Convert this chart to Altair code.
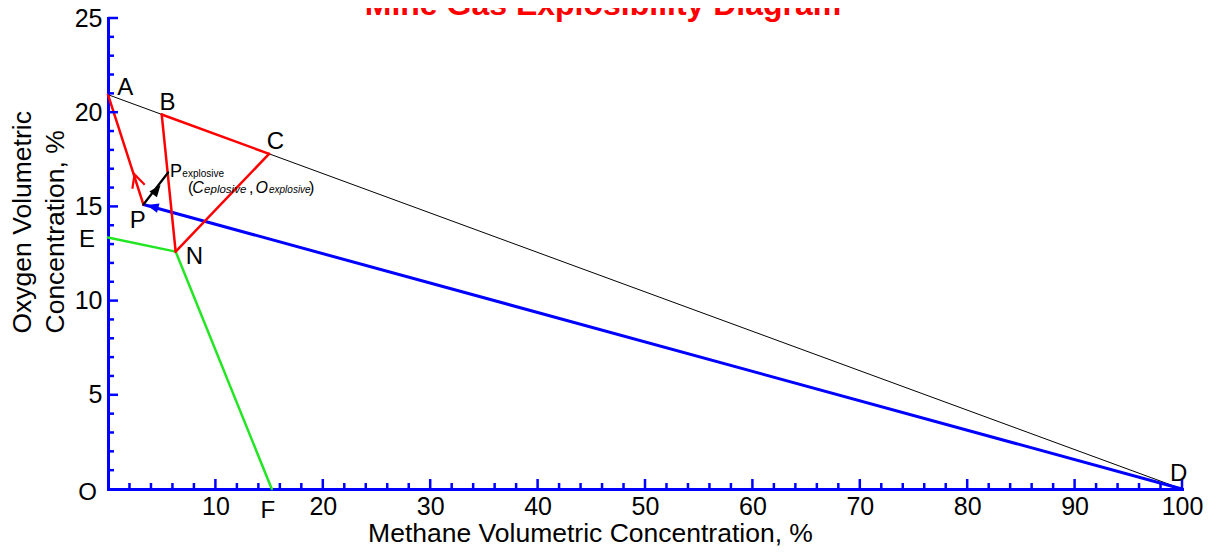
import altair as alt
import pandas as pd

# ---------------- data ----------------
TITLE = "Mine Gas Explosibility Diagram"
X_TITLE = "Methane Volumetric Concentration, %"
Y_TITLE = ["Oxygen Volumetric", "Concentration,  %"]

# key points of the diagram (methane %, oxygen %)
pt_name = ["A", "B", "C", "D", "E", "F", "N", "P", "Pexp"]
pt_x = [0.0, 5.0, 15.0, 100.0, 0.0, 15.25, 6.3, 3.3, 5.6]
pt_y = [20.93, 19.88, 17.79, 0.0, 13.35, 0.0, 12.6, 15.1, 16.8]

# line segments between key points
seg_from = ["A", "B", "C", "N", "A", "E", "N", "P", "P"]
seg_to = ["D", "C", "N", "B", "P", "N", "F", "D", "Pexp"]
seg_kind = ["air", "red", "red", "red", "red", "green", "green", "blue", "black"]

# arrow heads (tip positions)
arrow_kind = ["red", "black", "blue"]
arrow_x = [2.47, 4.89, 3.6]
arrow_y = [16.7, 16.14, 15.07]

# point labels
lab_text = ["A", "B", "C", "D", "E", "F", "N", "O", "P"]
lab_x = [1.61, 5.54, 15.6, 99.68, -1.96, 14.88, 8.05, -1.91, 2.78]
lab_y = [21.31, 20.49, 18.42, 0.8, 13.2, -1.17, 12.29, -0.19, 14.22]

# P_explosive annotation pieces
ann_text = ["P", "explosive", "(", "C", "eplosive", ",", "O", "explosive", ")"]
ann_kind = ["big", "sub", "paren", "bigit", "subit1", "paren", "bigit", "subit2", "paren"]
ann_x = [5.77, 6.92, 7.45, 7.85, 8.95, 13.13, 13.73, 14.99, 18.72]
ann_y = [16.58, 16.54, 15.70, 15.70, 15.70, 15.70, 15.70, 15.70, 15.70]

# axis ticks and labels
x_labels = [10, 20, 30, 40, 50, 60, 70, 80, 90, 100]
y_labels = [5, 10, 15, 20, 25]
x_minor = [v for v in range(2, 101, 2) if v % 10 != 0]
y_minor = [v for v in range(1, 26) if v % 5 != 0]

# ---------------- tables ----------------
pos = dict(zip(pt_name, zip(pt_x, pt_y)))
segs = pd.DataFrame({
    "x": [pos[a][0] for a in seg_from],
    "y": [pos[a][1] for a in seg_from],
    "x2": [pos[b][0] for b in seg_to],
    "y2": [pos[b][1] for b in seg_to],
    "kind": seg_kind,
})
arrows = pd.DataFrame({"x": arrow_x, "y": arrow_y, "kind": arrow_kind})
labels = pd.DataFrame({"x": lab_x, "y": lab_y, "t": lab_text})
ann = pd.DataFrame({"x": ann_x, "y": ann_y, "t": ann_text, "kind": ann_kind})
xt_major = pd.DataFrame({"v": x_labels})
xt_minor = pd.DataFrame({"v": x_minor})
yt_major = pd.DataFrame({"v": y_labels})
yt_minor = pd.DataFrame({"v": y_minor})

W, H = 1074, 471
FONT = "Liberation Sans"
BLUE = "#0000ff"
RED = "#ff0000"
GREEN = "#22e622"

xs = alt.Scale(domain=[0, 100], nice=False, zero=False)
ys = alt.Scale(domain=[0, 25], nice=False, zero=False)

x_axis = alt.Axis(values=x_labels, ticks=False, tickSize=0, grid=False,
                  domainColor=BLUE, domainWidth=3, domainCap="square",
                  labelFont=FONT, labelFontSize=25, labelColor="black",
                  labelPadding=5, labelFlush=False,
                  title=X_TITLE, titleFont=FONT, titleFontSize=26.5,
                  titleFontWeight="normal", titleColor="black",
                  titleX=482, titleY=52, titleAlign="center",
                  titleBaseline="alphabetic")
y_axis = alt.Axis(values=y_labels, ticks=False, tickSize=0, grid=False,
                  domainColor=BLUE, domainWidth=3, domainCap="square",
                  labelFont=FONT, labelFontSize=25, labelColor="black",
                  labelPadding=6, labelFlush=False,
                  title=Y_TITLE, titleFont=FONT, titleFontSize=26.5,
                  titleFontWeight="normal", titleColor="black",
                  titleAngle=270, titleAlign="left", titleBaseline="top",
                  titleX=-99, titleY=315, titleLineHeight=33)


def X(field):
    return alt.X(field, type="quantitative", scale=xs, axis=x_axis)


def Y(field):
    return alt.Y(field, type="quantitative", scale=ys, axis=y_axis)


base_axes = alt.Chart(pd.DataFrame({"x": [0, 100], "y": [0, 25]})).mark_point(opacity=0).encode(
    x=X("x"), y=Y("y"))


def seg_layer(kind, color, width):
    return alt.Chart(segs).transform_filter(alt.datum.kind == kind).mark_rule(
        color=color, strokeWidth=width, strokeCap="round").encode(
        x=X("x"), y=Y("y"), x2="x2:Q", y2="y2:Q")


air = seg_layer("air", "black", 1)
blue = seg_layer("blue", BLUE, 3)
green = seg_layer("green", GREEN, 2.5)
red = seg_layer("red", RED, 2.5)
black = seg_layer("black", "black", 2.2)


def arrow_layer(kind, shape, color, angle, size, filled):
    return alt.Chart(arrows).transform_filter(alt.datum.kind == kind).mark_point(
        shape=shape, color=color, angle=angle, size=size, filled=filled,
        strokeWidth=2.2, opacity=1).encode(x=X("x"), y=Y("y"))


ah_red = arrow_layer("red", "M-0.5,1L0,0L0.5,1", RED, 342, 676, False)
ah_black = arrow_layer("black", "M-0.4,1L0,0L0.4,1Z", "black", 38, 576, True)
ah_blue = arrow_layer("blue", "M-0.4,1L0,0L0.4,1Z", BLUE, 285, 576, True)


def ticks_x(df, length):
    return alt.Chart(df).mark_rule(color=BLUE, strokeWidth=2.5).encode(
        x=X("v"), y=alt.value(H), y2=alt.value(H - length))


def ticks_y(df, length):
    return alt.Chart(df).mark_rule(color=BLUE, strokeWidth=2.5).encode(
        y=Y("v"), x=alt.value(0), x2=alt.value(length))


point_labels = alt.Chart(labels).mark_text(
    font=FONT, fontSize=24, color="black", align="center", baseline="middle").encode(
    x=X("x"), y=Y("y"), text="t:N")


def ann_layer(kind, size, style):
    return alt.Chart(ann).transform_filter(alt.datum.kind == kind).mark_text(
        font=FONT, fontSize=size, fontStyle=style, color="black",
        align="left", baseline="alphabetic").encode(
        x=X("x"), y=Y("y"), text="t:N")


ann_layers = [ann_layer("big", 18, "normal"), ann_layer("sub", 10, "normal"),
              ann_layer("paren", 16, "normal"), ann_layer("bigit", 16, "italic"),
              ann_layer("subit1", 11.5, "italic"), ann_layer("subit2", 10, "italic")]

title = alt.Chart(pd.DataFrame({"t": [TITLE]})).mark_text(
    font=FONT, fontSize=32, fontWeight="bold", color=RED,
    align="center", baseline="alphabetic").encode(
    x=alt.value(495), y=alt.value(-3), text="t:N")

chart = alt.layer(
    base_axes, air, blue, green, red, black, ah_red, ah_black, ah_blue,
    ticks_x(xt_major, 10), ticks_x(xt_minor, 6), ticks_y(yt_major, 10), ticks_y(yt_minor, 6),
    point_labels, *ann_layers, title,
).properties(
    width=W, height=H,
    padding={"left": 100, "top": 10, "right": 30, "bottom": 57},
    autosize=alt.AutoSizeParams(type="none"),
    background="white",
).configure_view(stroke=None)

chart.save("out.html", embed_options={"renderer": "svg", "actions": False})
